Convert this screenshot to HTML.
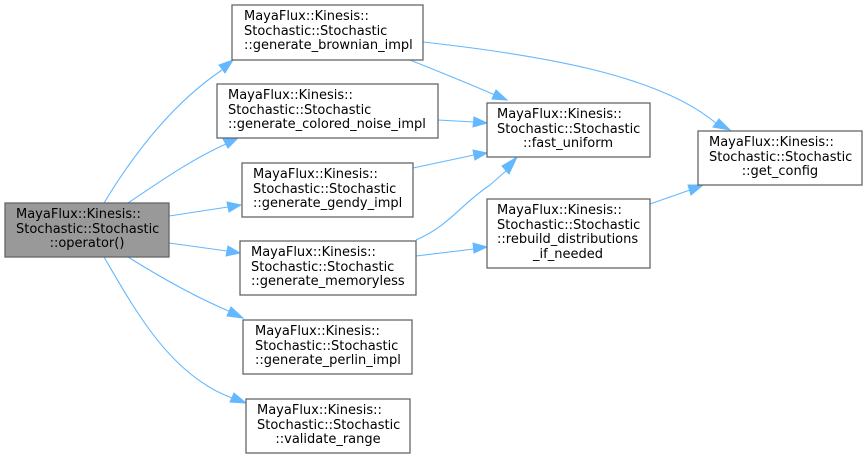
<!DOCTYPE html>
<html><head><meta charset="utf-8"><style>
html,body{margin:0;padding:0;background:#fff;}
svg{display:block;}
text{font-family:"DejaVu Sans","Liberation Sans",sans-serif;font-size:13px;fill:#000;}
.n{fill:#fff;stroke:#666;stroke-width:1.3;}
.e{fill:none;stroke:#63b8ff;stroke-width:1.1;}
.a{fill:#63b8ff;stroke:#63b8ff;}
</style></head><body>
<svg width="868" height="459" viewBox="0 0 868 459" xmlns="http://www.w3.org/2000/svg">
<!-- edges -->
<path class="e" d="M104,203 C130,160 170,105 222,70"/><polygon class="a" points="233,60 219,65 225,73"/>
<path class="e" d="M128,203 C155,185 190,160 226,144"/><polygon class="a" points="238,138 223,139 228,148"/>
<path class="e" d="M169,216 L228,207"/><polygon class="a" points="241,205 227,202 229,212"/>
<path class="e" d="M169,243 L227,251"/><polygon class="a" points="240,253 228,246 226,256"/>
<path class="e" d="M128,257 C160,277 195,297 231,312"/><polygon class="a" points="243,318 231,307 227,316"/>
<path class="e" d="M104,257 C135,310 170,375 232,398"/><polygon class="a" points="246,403 234,393 230,402"/>
<path class="e" d="M410,60 C435,70 465,82 495,95"/><polygon class="a" points="507,100 496,90 492,99"/>
<path class="e" d="M423,42 C540,55 660,75 717,124"/><polygon class="a" points="730,130 719,119 713,127"/>
<path class="e" d="M438,120 L474,122"/><polygon class="a" points="487,123 474,117 473,127"/>
<path class="e" d="M413,168 L474,155"/><polygon class="a" points="487,153 473,150 475,160"/>
<path class="e" d="M416,240 C450,225 460,205 490,185 L507,170"/><polygon class="a" points="517,157 502,166 509,174"/>
<path class="e" d="M416,256 L474,249"/><polygon class="a" points="487,247 473,243 474,253"/>
<path class="e" d="M650,204 L690,190"/><polygon class="a" points="703,185 688,185 691,195"/>
<!-- nodes -->
<rect x="5" y="203" width="164" height="54" fill="#999" stroke="#666" stroke-width="1.3"/>
<text x="16" y="218">MayaFlux::Kinesis::</text><text x="16" y="233">Stochastic::Stochastic</text><text x="87" y="247" text-anchor="middle">::operator()</text>

<rect class="n" x="232" y="5" width="191" height="55"/>
<text x="244" y="20">MayaFlux::Kinesis::</text><text x="244" y="35">Stochastic::Stochastic</text><text x="244" y="49">::generate_brownian_impl</text>

<rect class="n" x="217" y="84" width="221" height="54"/>
<text x="228" y="99">MayaFlux::Kinesis::</text><text x="228" y="114">Stochastic::Stochastic</text><text x="228" y="128">::generate_colored_noise_impl</text>

<rect class="n" x="242" y="163" width="171" height="54"/>
<text x="253" y="178">MayaFlux::Kinesis::</text><text x="253" y="193">Stochastic::Stochastic</text><text x="253" y="207">::generate_gendy_impl</text>

<rect class="n" x="240" y="241" width="176" height="54"/>
<text x="251" y="256">MayaFlux::Kinesis::</text><text x="251" y="271">Stochastic::Stochastic</text><text x="251" y="285">::generate_memoryless</text>

<rect class="n" x="243" y="320" width="169" height="54"/>
<text x="255" y="335">MayaFlux::Kinesis::</text><text x="255" y="350">Stochastic::Stochastic</text><text x="255" y="364">::generate_perlin_impl</text>

<rect class="n" x="246" y="399" width="164" height="54"/>
<text x="257" y="414">MayaFlux::Kinesis::</text><text x="257" y="429">Stochastic::Stochastic</text><text x="328" y="443" text-anchor="middle">::validate_range</text>

<rect class="n" x="487" y="103" width="163" height="54"/>
<text x="497" y="118">MayaFlux::Kinesis::</text><text x="497" y="133">Stochastic::Stochastic</text><text x="568" y="147" text-anchor="middle">::fast_uniform</text>

<rect class="n" x="487" y="199" width="163" height="69"/>
<text x="497" y="214">MayaFlux::Kinesis::</text><text x="497" y="229">Stochastic::Stochastic</text><text x="497" y="243">::rebuild_distributions</text><text x="568" y="258" text-anchor="middle">_if_needed</text>

<rect class="n" x="698" y="131" width="164" height="54"/>
<text x="709" y="146">MayaFlux::Kinesis::</text><text x="709" y="161">Stochastic::Stochastic</text><text x="780" y="175" text-anchor="middle">::get_config</text>
</svg>
</body></html>
